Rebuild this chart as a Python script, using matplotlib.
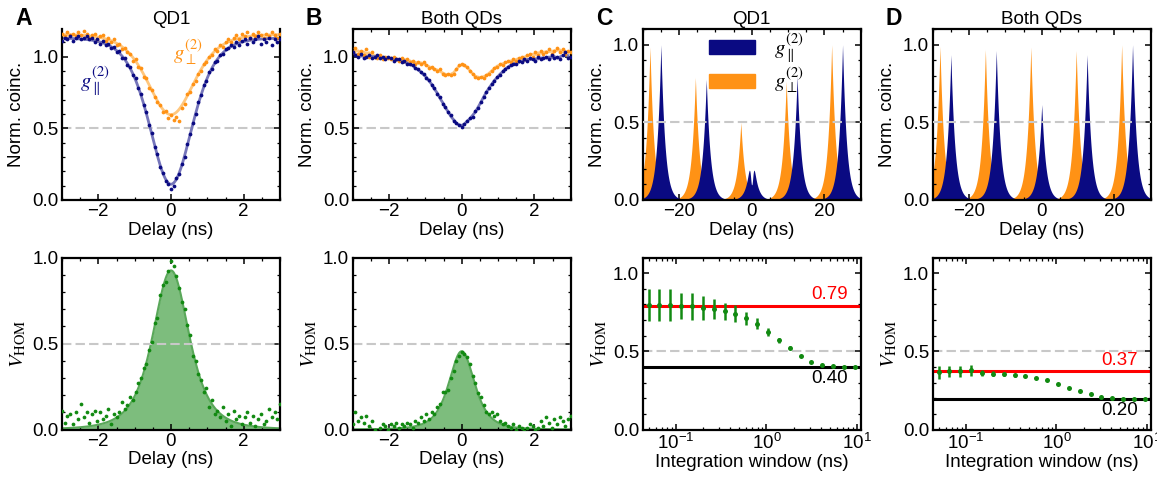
import numpy as np
import matplotlib.pyplot as plt
from matplotlib.patches import Patch
from matplotlib.ticker import MultipleLocator, LogLocator, NullFormatter
import matplotlib.transforms as mtransforms

plt.rcParams['font.family'] = ['Liberation Sans', 'DejaVu Sans']
plt.rcParams['mathtext.fontset'] = 'stix'
plt.rcParams['font.size'] = 13.5
plt.rcParams['axes.linewidth'] = 1.6

NAVY = '#0a0a82'
ORANGE = '#ff9215'
NAVY_LINE = '#7575ba'
ORANGE_LINE = '#ffc77e'
GREEN = '#128a12'
GREEN_FILL = '#7dbd7d'
GREEN_EDGE = '#5aa85a'
GREY = '#c8c8c8'

# ---- delay scans (panels A, B), 75 ps bins from -3 to 3 ns ----
delay = np.round(np.arange(-40, 41) * 0.075, 3)

a_par = [1.11, 1.13, 1.12, 1.14, 1.11, 1.13, 1.14, 1.12, 1.13, 1.14,
         1.12, 1.13, 1.10, 1.12, 1.09, 1.11, 1.08, 1.09, 1.06, 1.07,
         1.03, 1.04, 0.99, 0.99, 0.94, 0.93, 0.87, 0.85, 0.78, 0.74,
         0.66, 0.61, 0.52, 0.47, 0.37, 0.32, 0.23, 0.19, 0.13, 0.11,
         0.08,
         0.10, 0.15, 0.18, 0.25, 0.30, 0.39, 0.46, 0.54, 0.60, 0.68,
         0.73, 0.80, 0.83, 0.89, 0.91, 0.96, 0.97, 1.01, 1.02, 1.05,
         1.06, 1.08, 1.07, 1.10, 1.08, 1.11, 1.12, 1.09, 1.13, 1.10,
         1.12, 1.14, 1.09, 1.12, 1.10, 1.13, 1.08, 1.12, 1.10, 1.12]
a_perp = [1.16, 1.14, 1.17, 1.15, 1.16, 1.14, 1.17, 1.15, 1.18, 1.16,
          1.13, 1.15, 1.16, 1.12, 1.14, 1.15, 1.11, 1.13, 1.10, 1.12,
          1.08, 1.09, 1.05, 1.06, 1.03, 1.02, 0.97, 0.98, 0.93, 0.92,
          0.86, 0.85, 0.78, 0.77, 0.72, 0.68, 0.66, 0.61, 0.62, 0.57,
          0.59,
          0.56, 0.58, 0.55, 0.64, 0.67, 0.74, 0.75, 0.81, 0.83, 0.88,
          0.90, 0.95, 0.96, 1.00, 1.01, 1.05, 1.04, 1.08, 1.07, 1.10,
          1.12, 1.10, 1.13, 1.15, 1.12, 1.16, 1.14, 1.17, 1.13, 1.16,
          1.14, 1.17, 1.15, 1.13, 1.16, 1.14, 1.17, 1.15, 1.13, 1.16]
b_par = [1.03, 1.01, 1.00, 1.02, 0.99, 1.00, 1.01, 0.99, 1.00, 1.01,
         0.99, 1.00, 0.98, 1.00, 0.99, 0.97, 0.98, 0.98, 0.96, 0.97,
         0.95, 0.95, 0.94, 0.92, 0.91, 0.89, 0.88, 0.85, 0.84, 0.80,
         0.78, 0.74, 0.72, 0.67, 0.65, 0.61, 0.59, 0.55, 0.54, 0.52,
         0.51,
         0.53, 0.55, 0.57, 0.58, 0.62, 0.64, 0.68, 0.72, 0.75, 0.78,
         0.81, 0.83, 0.86, 0.87, 0.90, 0.91, 0.93, 0.94, 0.95, 0.95,
         0.97, 0.96, 0.98, 0.97, 0.99, 0.98, 0.97, 1.00, 0.98, 0.99,
         1.00, 0.98, 1.01, 0.99, 1.00, 0.98, 1.01, 1.03, 0.99, 1.00]
b_perp = [1.03, 1.06, 1.02, 1.04, 1.01, 1.05, 1.00, 1.03, 1.00, 0.99,
          1.01, 0.98, 1.00, 0.99, 0.98, 1.00, 0.98, 0.97, 0.99, 0.97,
          0.98, 0.96, 0.97, 0.95, 0.96, 0.95, 0.96, 0.94, 0.92, 0.93,
          0.91, 0.90, 0.91, 0.88, 0.87, 0.88, 0.87, 0.88, 0.91, 0.94,
          0.95,
          0.94, 0.93, 0.90, 0.88, 0.86, 0.85, 0.86, 0.85, 0.87, 0.88,
          0.90, 0.92, 0.93, 0.95, 0.94, 0.96, 0.97, 0.96, 0.98, 0.97,
          0.99, 1.00, 0.98, 1.01, 1.02, 1.00, 1.03, 1.01, 1.04, 1.02,
          1.03, 1.05, 1.02, 1.04, 1.06, 1.03, 1.05, 1.02, 1.04, 1.03]
a_vhom = [0.11, 0.04, 0.08, 0.09, 0.03, 0.10, 0.06, 0.15, 0.07, 0.10,
          0.04, 0.09, 0.11, 0.05, 0.10, 0.06, 0.08, 0.12, 0.03, 0.09,
          0.07, 0.10, 0.16, 0.12, 0.14, 0.19, 0.17, 0.22, 0.27, 0.30,
          0.36, 0.38, 0.46, 0.51, 0.62, 0.65, 0.78, 0.84, 0.86, 0.92,
          0.98,
          0.95, 0.89, 0.82, 0.74, 0.70, 0.61, 0.55, 0.43, 0.40, 0.32,
          0.29, 0.22, 0.24, 0.13, 0.17, 0.09, 0.11, 0.07, 0.13, 0.05,
          0.09, 0.02, 0.11, 0.06, 0.08, 0.03, 0.07, 0.10, 0.04, 0.08,
          0.02, 0.06, 0.09, 0.03, 0.05, 0.12, 0.07, 0.10, 0.06, 0.15]
b_vhom = [0.03, 0.10, 0.05, 0.07, 0.04, 0.08, 0.02, 0.05, 0.00, -0.02,
          0.01, 0.03, 0.02, 0.00, 0.03, 0.02, 0.04, 0.01, 0.03, 0.02,
          0.04, 0.03, 0.01, 0.05, 0.04, 0.07, 0.05, 0.09, 0.06, 0.10,
          0.09, 0.13, 0.15, 0.22, 0.22, 0.23, 0.30, 0.34, 0.40, 0.43,
          0.45,
          0.44, 0.42, 0.38, 0.31, 0.27, 0.21, 0.19, 0.14, 0.10, 0.09,
          0.10, 0.08, 0.09, 0.05, 0.03, 0.04, 0.02, 0.01, 0.03, 0.00,
          0.02, 0.01, -0.01, 0.01, 0.03, 0.02, 0.00, 0.01, 0.05, 0.02,
          0.07, 0.04, 0.01, 0.06, 0.03, 0.07, 0.05, 0.02, 0.06, 0.08]

# fitted model parameters (baseline, depth, width) and (amplitude, width)
A_PAR_FIT = (1.13, 1.02, 0.79)
A_PERP_FIT = (1.155, 0.56, 0.85)
A_VHOM_FIT = (0.925, 0.92)
B_VHOM_FIT = (0.455, 0.65)

# ---- full correlation histograms (panels C, D) ----
perp_centers = [-28.0, -15.5, -3.0, 9.5, 22.0]
par_centers = [-25.0, -12.5, 0.0, 12.5, 25.0]
c_perp_heights = [0.985, 0.79, 0.50, 0.765, 1.0]
c_par_heights = [1.0, 0.777, 0.40, 0.797, 1.0]
d_perp_heights = [0.99, 0.97, 0.985, 0.963, 1.0]
d_par_heights = [0.936, 0.963, 0.615, 0.936, 1.0]
PEAK_DECAY_NS = 1.1
C_CENTRAL_DIP = (0.75, 0.35)

# ---- visibility vs integration window ----
window_ns = [0.050, 0.0659, 0.0869, 0.1145, 0.1509, 0.1989, 0.2621, 0.3455,
             0.4553, 0.6001, 0.791, 1.0425, 1.374, 1.811, 2.387, 3.146,
             4.147, 5.466, 7.204, 9.495]
c_vis = [0.796, 0.796, 0.796, 0.790, 0.789, 0.778, 0.770, 0.755, 0.740,
         0.710, 0.677, 0.624, 0.570, 0.523, 0.469, 0.432, 0.410, 0.404,
         0.402, 0.402]
c_vis_err = [0.10, 0.10, 0.10, 0.086, 0.086, 0.075, 0.066, 0.052, 0.055,
             0.040, 0.035, 0.025, 0.016, 0.010, 0.006, 0.004, 0.003,
             0.002, 0.002, 0.002]
d_vis = [0.366, 0.372, 0.372, 0.378, 0.361, 0.357, 0.353, 0.346, 0.344,
         0.327, 0.314, 0.292, 0.267, 0.245, 0.226, 0.211, 0.202, 0.198,
         0.196, 0.194]
d_vis_err = [0.04, 0.035, 0.035, 0.035, 0.022, 0.016, 0.010, 0.008, 0.006,
             0.005, 0.004, 0.004, 0.003, 0.003, 0.002, 0.002, 0.002,
             0.002, 0.002, 0.002]
c_limits = (0.793, '0.79', 0.402, '0.40')
d_limits = (0.374, '0.37', 0.196, '0.20')


def sech2(x):
    return 1.0 / np.cosh(x) ** 2


def dip_model(x, p):
    base, depth, width = p
    return base - depth * sech2(x / width)


def peak_model(x, p):
    amp, width = p
    return amp / (1 + (x / width) ** 2) ** 2


def histogram(t, centers, heights, tau, dip=None):
    out = np.zeros_like(t)
    for c, h in zip(centers, heights):
        term = h * np.exp(-np.abs(t - c) / tau)
        if dip is not None and c == 0:
            term *= 1 - dip[0] * np.exp(-(t - c) ** 2 / (2 * dip[1] ** 2))
        out += term
    return out


def smooth(y):
    return np.convolve(y, np.ones(3) / 3, mode='valid')


W, H = 1157, 479
fig = plt.figure(figsize=(W / 100, H / 100), dpi=100)

lefts = [62, 352.7, 642.7, 932.7]
AX_W = 218


def make_axes(left, top, bottom):
    return fig.add_axes([left / W, 1 - bottom / H, AX_W / W, (bottom - top) / H])


def style(ax):
    ax.tick_params(which='both', direction='in', top=True, right=True,
                   labelsize=13.5, pad=2.5)
    ax.tick_params(which='major', length=4.5, width=1.1)
    ax.tick_params(which='minor', length=2.5, width=0.9)


def half_line(ax, z=3):
    ax.axhline(0.5, color=GREY, lw=1.5, dashes=(4.5, 2), zorder=z)


top_axes = [make_axes(l, 29.3, 200) for l in lefts]
bot_axes = [make_axes(l, 257.5, 429.5) for l in lefts]

xfine = np.linspace(-3, 3, 601)

# A top
ax = top_axes[0]
ax.plot(xfine, dip_model(xfine, A_PERP_FIT), color=ORANGE_LINE, lw=2, zorder=2)
ax.plot(xfine, dip_model(xfine, A_PAR_FIT), color=NAVY_LINE, lw=2, zorder=2)
ax.plot(delay, a_perp, 'o', color=ORANGE, ms=2.7, mew=0, zorder=3)
ax.plot(delay, a_par, 'o', color=NAVY, ms=2.7, mew=0, zorder=3)
ax.text(0.05, 1.03, r'$g^{(2)}_{\perp}$', color=ORANGE, fontsize=15,
        ha='left', va='center')
ax.text(-2.5, 0.83, r'$g^{(2)}_{\parallel}$', color=NAVY, fontsize=15,
        ha='left', va='center')
ax.spines['top'].set_visible(False)
style(ax)
ax.tick_params(which='both', top=False)

# B top
ax = top_axes[1]
ax.plot(delay[1:-1], smooth(b_perp), color=ORANGE_LINE, lw=2, zorder=2)
ax.plot(delay[1:-1], smooth(b_par), color=NAVY_LINE, lw=2, zorder=2)
ax.plot(delay, b_perp, 'o', color=ORANGE, ms=2.7, mew=0, zorder=3)
ax.plot(delay, b_par, 'o', color=NAVY, ms=2.7, mew=0, zorder=3)
style(ax)

for ax, title in zip(top_axes[:2], ['QD1', 'Both QDs']):
    half_line(ax, z=1)
    ax.set_xlim(-3, 3)
    ax.set_ylim(0, 1.19)
    ax.xaxis.set_major_locator(MultipleLocator(2))
    ax.xaxis.set_minor_locator(MultipleLocator(0.5))
    ax.yaxis.set_major_locator(MultipleLocator(0.5))
    ax.yaxis.set_minor_locator(MultipleLocator(0.1))
    ax.set_title(title, fontsize=13.5, pad=4)
    ax.set_xlabel('Delay (ns)', labelpad=1)
    ax.set_ylabel('Norm. coinc.', labelpad=5)

# C, D top
t = np.linspace(-30, 30, 6001)
hist_sets = [
    (c_perp_heights, c_par_heights, C_CENTRAL_DIP, 'QD1'),
    (d_perp_heights, d_par_heights, None, 'Both QDs'),
]
for ax, (hp, hb, dip, title) in zip(top_axes[2:], hist_sets):
    ax.fill_between(t, histogram(t, perp_centers, hp, PEAK_DECAY_NS),
                    color=ORANGE, lw=0, zorder=1)
    ax.fill_between(t, histogram(t, par_centers, hb, PEAK_DECAY_NS, dip),
                    color=NAVY, lw=0, zorder=2)
    half_line(ax, z=3)
    ax.set_xlim(-30, 30)
    ax.set_ylim(0, 1.1)
    ax.xaxis.set_major_locator(MultipleLocator(20))
    ax.xaxis.set_minor_locator(MultipleLocator(5))
    ax.yaxis.set_major_locator(MultipleLocator(0.5))
    ax.yaxis.set_minor_locator(MultipleLocator(0.1))
    ax.set_title(title, fontsize=13.5, pad=4)
    ax.set_xlabel('Delay (ns)', labelpad=1)
    ax.set_ylabel('Norm. coinc.', labelpad=5)
    style(ax)

top_axes[2].legend([Patch(color=NAVY), Patch(color=ORANGE)],
                   [r'$g^{(2)}_{\parallel}$', r'$g^{(2)}_{\perp}$'],
                   loc='upper left', bbox_to_anchor=(0.22, 1.10),
                   frameon=False, fontsize=15, handlelength=2.2,
                   handleheight=0.65, labelspacing=0.05, handletextpad=0.9)

# A, B bottom
for ax, vals, fit in zip(bot_axes[:2], [a_vhom, b_vhom], [A_VHOM_FIT, B_VHOM_FIT]):
    curve = peak_model(xfine, fit)
    ax.fill_between(xfine, curve, color=GREEN_FILL, lw=0, zorder=1)
    ax.plot(xfine, curve, color=GREEN_EDGE, lw=1.5, zorder=2)
    half_line(ax, z=2.5)
    ax.plot(delay, vals, 'o', color=GREEN, ms=2.7, mew=0, zorder=3)
    ax.set_xlim(-3, 3)
    ax.set_ylim(0, 1.0)
    ax.xaxis.set_major_locator(MultipleLocator(2))
    ax.xaxis.set_minor_locator(MultipleLocator(0.5))
    ax.yaxis.set_major_locator(MultipleLocator(0.5))
    ax.yaxis.set_minor_locator(MultipleLocator(0.1))
    ax.set_xlabel('Delay (ns)', labelpad=1)
    ax.set_ylabel(r'$V_{\mathrm{HOM}}$', fontsize=15, labelpad=3)
    style(ax)

# C, D bottom
for ax, vals, errs, lim in zip(bot_axes[2:], [c_vis, d_vis],
                               [c_vis_err, d_vis_err], [c_limits, d_limits]):
    red_val, red_txt, blk_val, blk_txt = lim
    half_line(ax, z=1)
    ax.axhline(red_val, color='red', lw=2.2, zorder=2)
    ax.axhline(blk_val, color='black', lw=2.2, zorder=2)
    ax.errorbar(window_ns, vals, yerr=errs, fmt='o', color=GREEN, ms=3.6,
                mew=0, elinewidth=1.8, capsize=0, zorder=3)
    trans = mtransforms.blended_transform_factory(ax.transAxes, ax.transData)
    ax.text(0.94, red_val + 0.015, red_txt, color='red', transform=trans,
            ha='right', va='bottom', fontsize=13.5)
    ax.text(0.94, blk_val - 0.02, blk_txt, color='black', transform=trans,
            ha='right', va='top', fontsize=13.5)
    ax.set_xscale('log')
    ax.set_xlim(0.043, 11)
    ax.set_ylim(0, 1.1)
    ax.xaxis.set_major_locator(LogLocator(base=10, numticks=10))
    ax.xaxis.set_minor_locator(LogLocator(base=10, subs=np.arange(2, 10), numticks=10))
    ax.xaxis.set_minor_formatter(NullFormatter())
    ax.yaxis.set_major_locator(MultipleLocator(0.5))
    ax.yaxis.set_minor_locator(MultipleLocator(0.1))
    ax.set_xlabel('Integration window (ns)', labelpad=1)
    ax.set_ylabel(r'$V_{\mathrm{HOM}}$', fontsize=15, labelpad=3)
    style(ax)

for l, letter in zip(lefts, 'ABCD'):
    fig.text((l - 47) / W, 1 - 25 / H, letter, fontsize=16.5,
             fontweight='bold', ha='left', va='baseline')

fig.savefig('out.png', dpi=100)
